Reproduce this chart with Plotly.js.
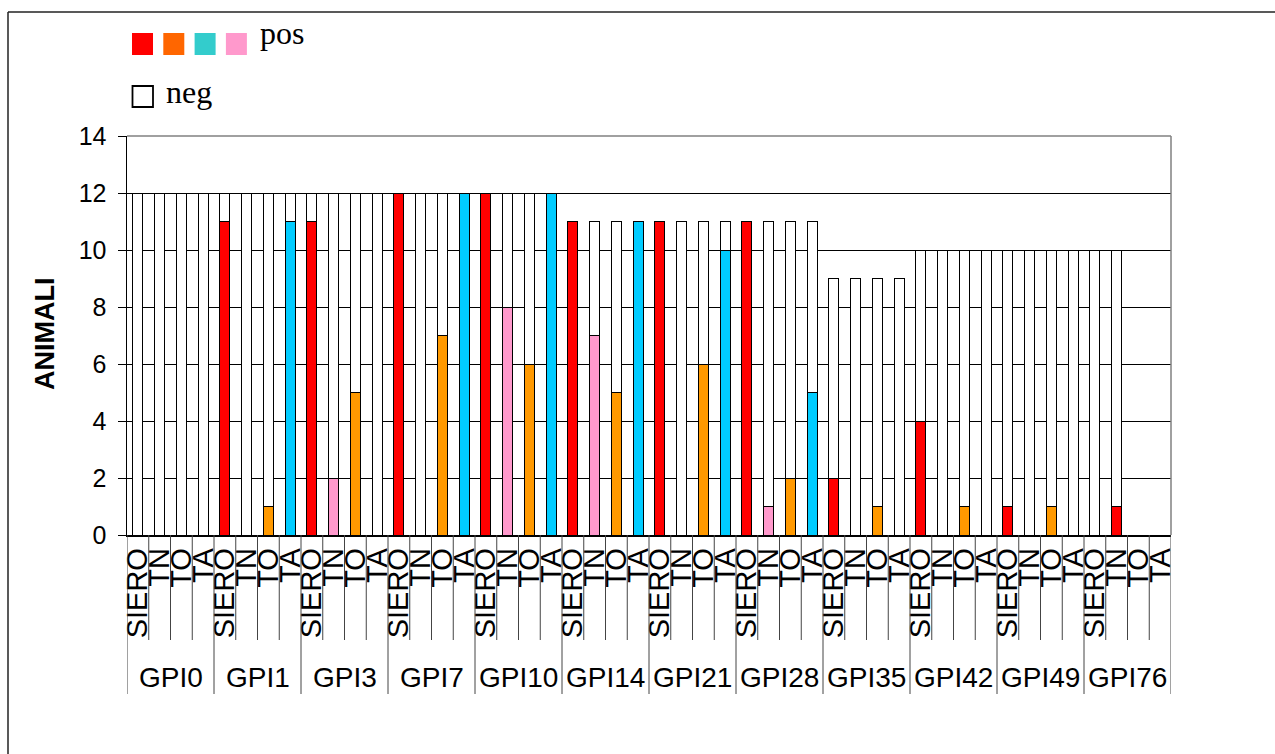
<!DOCTYPE html>
<html>
<head>
<meta charset="utf-8">
<script src="https://cdn.plot.ly/plotly-3.0.1.min.js"></script>
<style>
  html, body { margin: 0; padding: 0; background: #ffffff; }
  #chart { width: 1275px; height: 754px; }
</style>
</head>
<body>
<div id="chart"></div>
<script>
// Sampling days and the four tests run on each day
const groups = ['GPI0', 'GPI1', 'GPI3', 'GPI7', 'GPI10', 'GPI14', 'GPI21', 'GPI28', 'GPI35', 'GPI42', 'GPI49', 'GPI76'];
const tests = ['SIERO', 'TN', 'TO', 'TA'];

// Positive animals per test, one value per sampling day
const posSiero = [0, 11, 11, 12, 12, 11, 11, 11, 2, 4, 1, 0];
const posTN    = [0, 0, 2, 0, 8, 7, 0, 1, 0, 0, 0, 1];
const posTO    = [0, 1, 5, 7, 6, 5, 6, 2, 1, 1, 1, null];
const posTA    = [0, 11, 0, 12, 12, 11, 10, 5, 0, 0, 0, null];

// Negative animals per test, one value per sampling day
const negSiero = [12, 1, 1, 0, 0, 0, 0, 0, 7, 6, 9, 10];
const negTN    = [12, 12, 10, 12, 4, 4, 11, 10, 9, 10, 10, 9];
const negTO    = [12, 11, 7, 5, 6, 6, 5, 9, 8, 9, 9, null];
const negTA    = [12, 1, 12, 0, 0, 0, 1, 6, 9, 10, 10, null];

const legendPos = 'pos';
const legendNeg = 'neg';
const yTitle = 'ANIMALI';

// Fill colour of the positive part, by test
const testColor = { SIERO: '#FF0000', TN: '#FF99CC', TO: '#FF9900', TA: '#00CCFF' };
const colorOverride = { 'GPI76|TN': '#FF0000' };
const legendSwatches = ['#FF0000', '#FF6600', '#33CCCC', '#FF99CC'];

const posByTest = [posSiero, posTN, posTO, posTA];
const negByTest = [negSiero, negTN, negTO, negTA];

// Flatten to one bar slot per (day, test)
const xs = [], pos = [], neg = [], posColors = [], tickText = [];
groups.forEach((g, gi) => {
  tests.forEach((t, ti) => {
    xs.push(gi * tests.length + ti);
    pos.push(posByTest[ti][gi]);
    neg.push(negByTest[ti][gi]);
    posColors.push(colorOverride[g + '|' + t] || testColor[t]);
    tickText.push(t);
  });
});

// Page geometry (pixels) of the plotting area
const W = 1275, H = 754;
const M = { l: 127, r: 104, t: 136, b: 219 };
const plotW = W - M.l - M.r, plotH = H - M.t - M.b;
const px = v => (v - M.l) / plotW;          // page x -> paper x
const py = v => (H - M.b - v) / plotH;      // page y -> paper y

const barWidth = 0.46;
const font = 'Arial, "Liberation Sans", sans-serif';
const serif = '"Times New Roman", "Liberation Serif", serif';

const traces = [
  {
    type: 'bar', x: xs, y: pos, width: barWidth, name: legendPos,
    marker: { color: posColors, line: { color: '#000000', width: 1 } },
    hoverinfo: 'skip'
  },
  {
    type: 'bar', x: xs, y: neg, width: barWidth, name: legendNeg,
    marker: { color: '#FFFFFF', line: { color: '#000000', width: 1 } },
    hoverinfo: 'skip'
  }
];

const shapes = [];
// Category separators below the axis; day separators run further down
for (let k = 0; k <= xs.length; k++) {
  const isGroupEdge = k % tests.length === 0;
  shapes.push({
    type: 'line', xref: 'x', yref: 'paper',
    x0: k - 0.5, x1: k - 0.5, y0: 0, y1: py(isGroupEdge ? 694 : 640),
    line: { color: '#444444', width: 1 }, layer: 'above'
  });
}
// Plot-area frame (top and right)
shapes.push({ type: 'line', xref: 'paper', yref: 'paper', x0: 0, x1: 1, y0: 1, y1: 1,
  line: { color: '#808080', width: 1.5 } });
shapes.push({ type: 'line', xref: 'paper', yref: 'paper', x0: 1, x1: 1, y0: 0, y1: 1,
  line: { color: '#808080', width: 1.5 } });
// Chart frame (top and left edges)
shapes.push({ type: 'line', xref: 'paper', yref: 'paper', x0: px(8), x1: px(1290), y0: py(12), y1: py(12),
  line: { color: '#222222', width: 1.5 } });
shapes.push({ type: 'line', xref: 'paper', yref: 'paper', x0: px(8), x1: px(8), y0: py(12), y1: py(770),
  line: { color: '#222222', width: 1.5 } });
// Legend swatches
legendSwatches.forEach((c, i) => {
  const x0 = 132 + i * 31.3;
  shapes.push({ type: 'rect', xref: 'paper', yref: 'paper',
    x0: px(x0), x1: px(x0 + 21), y0: py(55), y1: py(33),
    fillcolor: c, line: { width: 0 } });
});
shapes.push({ type: 'rect', xref: 'paper', yref: 'paper',
  x0: px(132.5), x1: px(153), y0: py(107), y1: py(86),
  fillcolor: '#FFFFFF', line: { color: '#000000', width: 1.8 } });

const annotations = groups.map((g, gi) => ({
  text: g, xref: 'x', yref: 'paper',
  x: gi * tests.length + (tests.length - 1) / 2, y: py(677),
  showarrow: false, xanchor: 'center', yanchor: 'middle',
  font: { family: font, size: 28, color: '#000000' }
}));
annotations.push({
  text: legendPos, xref: 'paper', yref: 'paper', x: px(258), y: py(33),
  showarrow: false, xanchor: 'left', yanchor: 'middle',
  font: { family: serif, size: 32, color: '#000000' }
});
annotations.push({
  text: legendNeg, xref: 'paper', yref: 'paper', x: px(164), y: py(92),
  showarrow: false, xanchor: 'left', yanchor: 'middle',
  font: { family: serif, size: 32, color: '#000000' }
});
annotations.push({
  text: '<b>' + yTitle + '</b>', xref: 'paper', yref: 'paper', x: px(45), y: py(334),
  showarrow: false, xanchor: 'center', yanchor: 'middle', textangle: -90,
  font: { family: font, size: 27, color: '#000000' }
});

const layout = {
  width: W, height: H,
  margin: M,
  paper_bgcolor: '#FFFFFF', plot_bgcolor: '#FFFFFF',
  barmode: 'stack',
  showlegend: false,
  xaxis: {
    range: [-0.5, xs.length - 0.5],
    tickmode: 'array', tickvals: xs, ticktext: tickText,
    tickangle: -90, ticks: '',
    tickfont: { family: font, size: 29, color: '#000000' },
    showgrid: false, zeroline: false,
    showline: true, linecolor: '#000000', linewidth: 1.5,
    automargin: false, fixedrange: true
  },
  yaxis: {
    range: [0, 14], tickmode: 'linear', tick0: 0, dtick: 2,
    ticks: 'outside', ticklen: 8, tickcolor: '#000000', tickwidth: 1,
    ticklabelstandoff: 6,
    tickfont: { family: font, size: 25, color: '#000000' },
    showgrid: true, gridcolor: '#000000', gridwidth: 1,
    zeroline: false,
    showline: true, linecolor: '#000000', linewidth: 1.5,
    automargin: false, fixedrange: true
  },
  shapes: shapes,
  annotations: annotations
};

Plotly.newPlot('chart', traces, layout, { staticPlot: true, displayModeBar: false });
</script>
</body>
</html>
